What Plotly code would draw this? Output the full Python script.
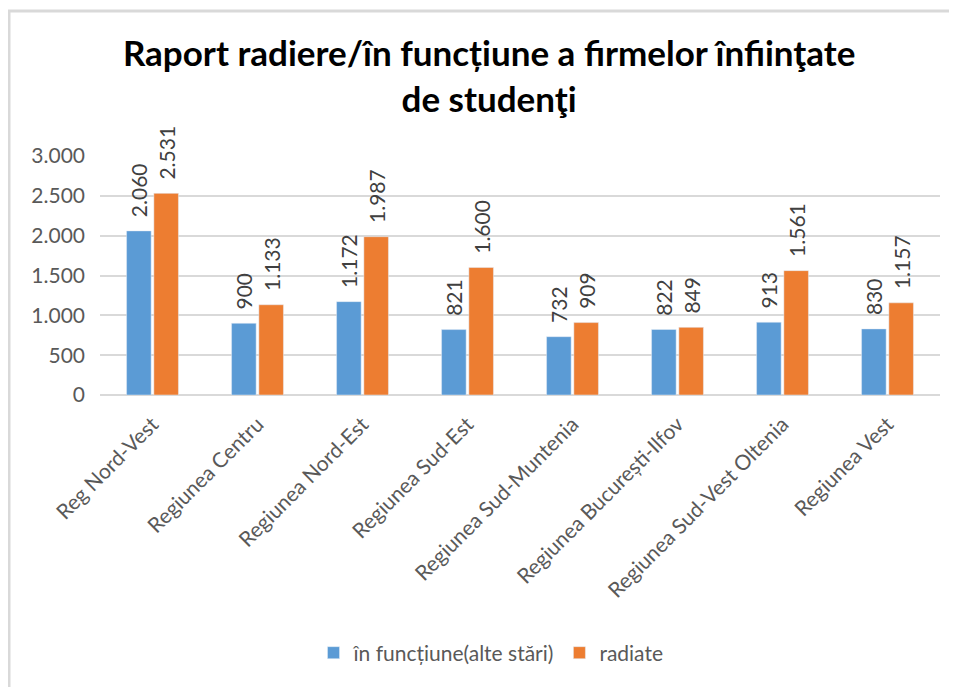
import plotly.graph_objects as go

regiuni = ['Reg Nord-Vest', 'Regiunea Centru', 'Regiunea Nord-Est', 'Regiunea Sud-Est',
           'Regiunea Sud-Muntenia', 'Regiunea București-Ilfov', 'Regiunea Sud-Vest Oltenia',
           'Regiunea Vest']
in_functiune = [2060, 900, 1172, 821, 732, 822, 913, 830]
radiate = [2531, 1133, 1987, 1600, 909, 849, 1561, 1157]

# pagina are o margine de 8px in browser, deci figura e putin mai mica
W, H = 949, 679
L, R, T, B = 92, 17, 148, 292

def px_x(x):
    return (x - L) / (W - L - R)

def px_y(y):
    return (H - B - y) / (H - T - B)

font = 'Lato'
gri = '#595959'

fig = go.Figure()
for nume, valori, culoare in [('în funcțiune(alte stări)', in_functiune, '#5B9BD5'),
                              ('radiate', radiate, '#ED7D31')]:
    fig.add_trace(go.Bar(x=regiuni, y=valori, name=nume, marker_color=culoare,
                         texttemplate='\u00a0\u00a0%{y:,}', textposition='outside', textangle=-90,
                         constraintext='none',
                         textfont=dict(size=21, color='#404040', family=font),
                         cliponaxis=False))

# chenarul graficului
fig.add_shape(type='line', xref='paper', yref='paper', x0=px_x(0), x1=px_x(960),
              y0=px_y(3), y1=px_y(3), line=dict(color='#D9D9D9', width=3), layer='above')
fig.add_shape(type='line', xref='paper', yref='paper', x0=px_x(1), x1=px_x(1),
              y0=px_y(3), y1=px_y(690), line=dict(color='#D9D9D9', width=3), layer='above')

fig.update_layout(
    width=W, height=H,
    margin=dict(l=L, r=R, t=T, b=B),
    paper_bgcolor='white', plot_bgcolor='white',
    separators=',.',
    barmode='group', bargap=0.48, bargroupgap=0.1,
    title=dict(text='<b>Raport radiere/în funcțiune a firmelor înfiinţate<br>de studenţi</b>',
               x=0.507, xanchor='center', y=1 - 58 / H, yanchor='top',
               font=dict(size=35, color='black', family=font)),
    font=dict(family=font, color=gri),
    showlegend=True,
    legend=dict(orientation='h', x=px_x(483), xanchor='center', y=px_y(645), yanchor='middle',
                font=dict(size=21, color=gri, family=font)),
    uniformtext=dict(minsize=21, mode='show'),
)
fig.update_yaxes(range=[0, 3000], dtick=500, tickformat=',', showgrid=True,
                 gridcolor='#D9D9D9', gridwidth=1.5, zeroline=True, zerolinecolor='#D9D9D9',
                 zerolinewidth=1.5, tickfont=dict(size=21, color=gri), ticks='',
                 ticklabelstandoff=14, automargin=False)
fig.update_xaxes(tickangle=-45, tickfont=dict(size=21, color=gri), showline=False, ticks='',
                 ticklabelstandoff=12, automargin=False)

fig.write_html('out.html')
